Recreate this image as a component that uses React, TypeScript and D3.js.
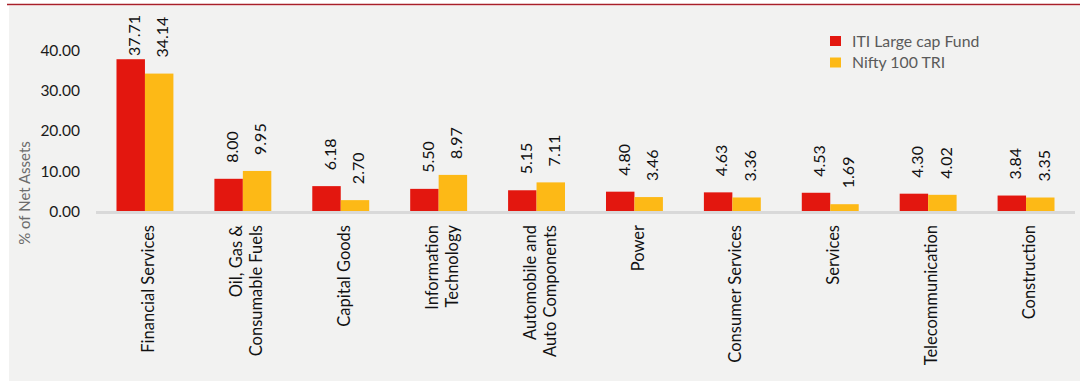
import React, { useEffect, useRef } from "react";
import * as d3 from "d3";

const categories: string[][] = [
  ["Financial Services"],
  ["Oil, Gas &", "Consumable Fuels"],
  ["Capital Goods"],
  ["Information", "Technology"],
  ["Automobile and", "Auto Components"],
  ["Power"],
  ["Consumer Services"],
  ["Services"],
  ["Telecommunication"],
  ["Construction"],
];
const fundValues = [37.71, 8.0, 6.18, 5.5, 5.15, 4.8, 4.63, 4.53, 4.3, 3.84];
const benchValues = [34.14, 9.95, 2.7, 8.97, 7.11, 3.46, 3.36, 1.69, 4.02, 3.35];
const seriesNames = ["ITI Large cap Fund", "Nifty 100 TRI"];
const seriesColors = ["#E3170F", "#FDB916"];
const yTicks = [0, 10, 20, 30, 40];

const W = 1080;
const H = 384;
const FONT = "Lato, 'Open Sans', sans-serif";

export default function App() {
  const ref = useRef<SVGSVGElement>(null);

  useEffect(() => {
    const svg = d3.select(ref.current);
    svg.selectAll("*").remove();

    // background
    svg.append("rect").attr("x", 0).attr("y", 0).attr("width", W).attr("height", H).attr("fill", "#ffffff");
    svg.append("rect").attr("x", 9).attr("y", 6).attr("width", W - 9).attr("height", 375).attr("fill", "#F2F2F1");
    svg.append("line").attr("x1", 7).attr("x2", W).attr("y1", 4.5).attr("y2", 4.5)
      .attr("stroke", "#A8202A").attr("stroke-width", 1.6);

    const x0 = d3.scaleBand<number>().domain(d3.range(categories.length)).range([96, 1075]).paddingInner(0).paddingOuter(0);
    const x1 = d3.scaleBand<number>().domain([0, 1]).range([0, x0.bandwidth()]).paddingInner(0).paddingOuter(0.72);
    const y = d3.scaleLinear().domain([0, 40]).range([211, 50]);

    // y tick labels
    svg.append("g").selectAll("text").data(yTicks).join("text")
      .attr("x", 80).attr("y", (d) => y(d)).attr("dy", "0.38em")
      .attr("text-anchor", "end").attr("font-family", FONT).attr("font-size", 15.5)
      .attr("fill", "#1a1a1a").text((d) => d.toFixed(2));

    // y title
    svg.append("text").attr("transform", `translate(25,${193}) rotate(-90)`)
      .attr("dy", "0.35em").attr("text-anchor", "middle")
      .attr("font-family", FONT).attr("font-size", 15).attr("fill", "#6b6b6b")
      .text("% of Net Assets");

    const series = [fundValues, benchValues];
    const g = svg.append("g");
    series.forEach((vals, si) => {
      g.append("g").selectAll("rect").data(vals).join("rect")
        .attr("x", (_, i) => (x0(i) as number) + (x1(si) as number))
        .attr("y", (d) => y(d))
        .attr("width", x1.bandwidth())
        .attr("height", (d) => y(0) - y(d))
        .attr("fill", seriesColors[si]);
    });

    // axis line
    svg.append("line").attr("x1", 96).attr("x2", 1075).attr("y1", y(0) + 1.5).attr("y2", y(0) + 1.5)
      .attr("stroke", "#D9D9D9").attr("stroke-width", 3);

    // value labels
    series.forEach((vals, si) => {
      vals.forEach((v, i) => {
        const cx = (x0(i) as number) + (x1(si) as number) + x1.bandwidth() / 2;
        const t = svg.append("text")
          .attr("font-family", FONT).attr("font-size", 16).attr("fill", "#111")
          .attr("text-anchor", "start").attr("dy", "0.58em").text(v.toFixed(2));
        const len = (t.node() as SVGTextElement).getComputedTextLength();
        const start = Math.max(y(v) - 16, 15 + len);
        t.attr("transform", `translate(${cx},${start}) rotate(-90)`);
      });
    });

    // category labels
    categories.forEach((lines, i) => {
      const cx = (x0(i) as number) + x0.bandwidth() / 2;
      const n = lines.length;
      lines.forEach((ln, li) => {
        const off = (li - (n - 1) / 2) * 20;
        svg.append("text")
          .attr("transform", `translate(${cx + off},225) rotate(-90)`)
          .attr("dy", "0.55em").attr("text-anchor", "end")
          .attr("font-family", FONT).attr("font-size", 16.5).attr("fill", "#111")
          .text(ln);
      });
    });

    // legend
    const leg = svg.append("g");
    seriesNames.forEach((name, si) => {
      const ly = 36 + si * 21.5;
      leg.append("rect").attr("x", 830).attr("y", ly).attr("width", 11).attr("height", 10).attr("fill", seriesColors[si]);
      leg.append("text").attr("x", 852).attr("y", ly + 5).attr("dy", "0.35em")
        .attr("font-family", FONT).attr("font-size", 15.8).attr("fill", "#5a5a5a").text(name);
    });
  }, []);

  return (
    <>
      <style>{`body{margin:0;}`}</style>
      <svg ref={ref} width={W} height={H} style={{ display: "block" }} />
    </>
  );
}
